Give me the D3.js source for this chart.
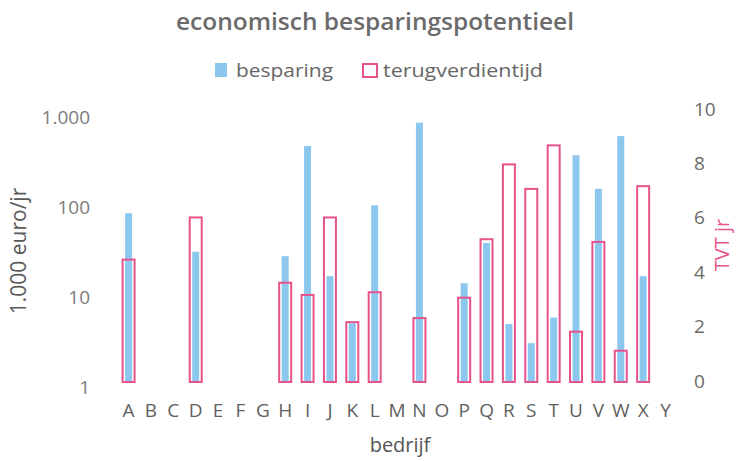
<!DOCTYPE html>
<html><head><meta charset="utf-8">
<script src="https://cdn.jsdelivr.net/npm/d3@7"></script>
<style>body{margin:0;background:#fff}svg{display:block}text{font-family:"Open Sans",Lato,sans-serif}</style>
</head><body><svg id="c" width="749" height="461"></svg>
<script>
const categories = ["A","B","C","D","E","F","G","H","I","J","K","L","M","N","O","P","Q","R","S","T","U","V","W","X","Y"];
const besparing = [75,null,null,28,null,null,null,25,420,15,4.5,92,null,760,null,12.5,35,4.4,2.7,5.2,330,140,540,15,null];
const terugverdientijd = [4.5,null,null,6.05,null,null,null,3.65,3.2,6.05,2.2,3.3,null,2.35,null,3.1,5.25,8.0,7.1,8.7,1.85,5.15,1.15,7.2,null];
const leftTicks = [1,10,100,1000];
const leftTickLabels = ["1","10","100","1.000"];
const rightTicks = [0,2,4,6,8,10];

const svg = d3.select("#c");
const plotTop = 112, plotBottom = 382;
const x = d3.scaleBand().domain(categories).range([117.4,676.7]).paddingInner(0).paddingOuter(0);
const yL = d3.scaleLog().domain([1,1000]).range([plotBottom, plotTop]);
const yR = d3.scaleLinear().domain([0,10]).range([plotBottom, 110]);
const blue = "#8cc8ee", pink = "#e8528c";

const bw = 7, pw = 12;
svg.append("g").selectAll("rect").data(categories.map((c,i)=>({c,v:besparing[i]})).filter(d=>d.v!=null))
  .join("rect")
  .attr("x", d=>x(d.c)+x.bandwidth()/2 - bw/2)
  .attr("y", d=>yL(d.v)).attr("width", bw).attr("height", d=>yL(1)-yL(d.v))
  .attr("fill", blue);
svg.append("g").selectAll("rect").data(categories.map((c,i)=>({c,v:terugverdientijd[i]})).filter(d=>d.v!=null))
  .join("rect")
  .attr("x", d=>x(d.c)+x.bandwidth()/2 - pw/2)
  .attr("y", d=>yR(d.v)).attr("width", pw).attr("height", d=>yR(0)-yR(d.v))
  .attr("fill", "none").attr("stroke", pink).attr("stroke-width", 2);

// left axis
const ga = svg.append("g").attr("transform","translate(90,5)")
  .call(d3.axisLeft(yL).tickValues(leftTicks).tickFormat((d,i)=>leftTickLabels[i]).tickSize(0).tickPadding(0));
ga.select(".domain").remove();
ga.selectAll("text").attr("fill","#7c7c7c").style("font-size","19px");
// right axis
const gr = svg.append("g").attr("transform","translate(694,-1)")
  .call(d3.axisRight(yR).tickValues(rightTicks).tickSize(0).tickPadding(0));
gr.select(".domain").remove();
gr.selectAll("text").attr("fill","#6a6a6a").style("font-size","19px");
// x axis
const gx = svg.append("g").attr("transform","translate(0,403)")
  .call(d3.axisBottom(x).tickSize(0).tickPadding(0));
gx.select(".domain").remove();
gx.selectAll("text").attr("fill","#5f5f5f").style("font-size","19px");

// titles
svg.append("text").attr("x",375).attr("y",30).attr("text-anchor","middle")
  .attr("fill","#6b6b6b").style("font-size","23px").style("font-weight","600")
  .attr("textLength",398).attr("lengthAdjust","spacingAndGlyphs").text("economisch besparingspotentieel");
svg.append("text").attr("x",400).attr("y",452).attr("text-anchor","middle")
  .attr("fill","#555").style("font-size","20px").text("bedrijf");
svg.append("text").attr("transform","translate(26,251) rotate(-90)").attr("text-anchor","middle")
  .attr("fill","#5a5a5a").style("font-size","21px").text("1.000 euro/jr");
svg.append("text").attr("transform","translate(729,245) rotate(-90)").attr("text-anchor","middle")
  .attr("fill",pink).style("font-size","20px").text("TVT jr");

// legend
const lg = svg.append("g");
lg.append("rect").attr("x",215).attr("y",63).attr("width",12).attr("height",14).attr("fill",blue);
lg.append("text").attr("x",236).attr("y",77).attr("fill","#666").style("font-size","19px")
  .attr("textLength",97).attr("lengthAdjust","spacingAndGlyphs").text("besparing");
lg.append("rect").attr("x",363).attr("y",64).attr("width",14).attr("height",13).attr("fill","none").attr("stroke",pink).attr("stroke-width",2);
lg.append("text").attr("x",383).attr("y",77).attr("fill","#666").style("font-size","19px")
  .attr("textLength",160).attr("lengthAdjust","spacingAndGlyphs").text("terugverdientijd");
</script></body></html>
